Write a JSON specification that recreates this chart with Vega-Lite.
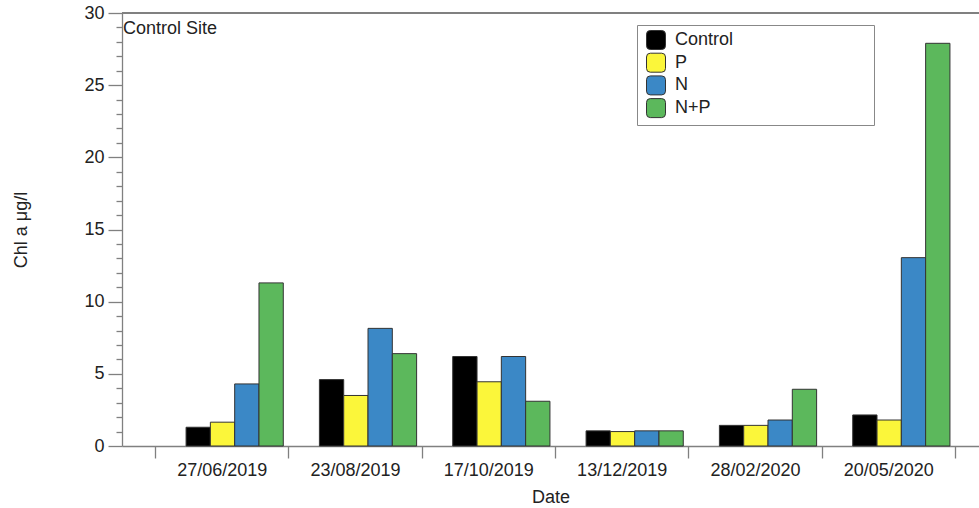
{
  "$schema": "https://vega.github.io/schema/vega-lite/v6.json",
  "autosize": {"type": "none"},
  "padding": {"left": 122, "top": 13, "right": 0, "bottom": 62},
  "width": 857,
  "height": 433,
  "background": "white",
  "config": {
    "view": {"stroke": null},
    "font": "Liberation Sans",
    "axis": {
      "domainColor": "#808080",
      "domainWidth": 1.3,
      "tickColor": "#808080",
      "tickWidth": 1.3,
      "labelFont": "Liberation Sans",
      "titleFont": "Liberation Sans",
      "labelFontSize": 18,
      "titleFontSize": 18,
      "labelColor": "#222",
      "titleColor": "#222",
      "titleFontWeight": "normal",
      "grid": false
    }
  },
  "title": {
    "text": "Control Site",
    "anchor": "start",
    "frame": "group",
    "orient": "top",
    "offset": 0,
    "baseline": "alphabetic",
    "dx": 1,
    "dy": 48,
    "fontSize": 18,
    "fontWeight": "normal",
    "font": "Liberation Sans",
    "color": "#222"
  },
  "data": {
    "values": [
      {"date": "27/06/2019", "treatment": "Control", "chl": 1.3},
      {"date": "27/06/2019", "treatment": "P", "chl": 1.65},
      {"date": "27/06/2019", "treatment": "N", "chl": 4.3},
      {"date": "27/06/2019", "treatment": "N+P", "chl": 11.3},
      {"date": "23/08/2019", "treatment": "Control", "chl": 4.6},
      {"date": "23/08/2019", "treatment": "P", "chl": 3.5},
      {"date": "23/08/2019", "treatment": "N", "chl": 8.15},
      {"date": "23/08/2019", "treatment": "N+P", "chl": 6.4},
      {"date": "17/10/2019", "treatment": "Control", "chl": 6.2},
      {"date": "17/10/2019", "treatment": "P", "chl": 4.45},
      {"date": "17/10/2019", "treatment": "N", "chl": 6.2},
      {"date": "17/10/2019", "treatment": "N+P", "chl": 3.1},
      {"date": "13/12/2019", "treatment": "Control", "chl": 1.05},
      {"date": "13/12/2019", "treatment": "P", "chl": 1.0},
      {"date": "13/12/2019", "treatment": "N", "chl": 1.05},
      {"date": "13/12/2019", "treatment": "N+P", "chl": 1.05},
      {"date": "28/02/2020", "treatment": "Control", "chl": 1.43},
      {"date": "28/02/2020", "treatment": "P", "chl": 1.43},
      {"date": "28/02/2020", "treatment": "N", "chl": 1.8},
      {"date": "28/02/2020", "treatment": "N+P", "chl": 3.93},
      {"date": "20/05/2020", "treatment": "Control", "chl": 2.15},
      {"date": "20/05/2020", "treatment": "P", "chl": 1.8},
      {"date": "20/05/2020", "treatment": "N", "chl": 13.05},
      {"date": "20/05/2020", "treatment": "N+P", "chl": 27.9}
    ]
  },
  "layer": [
    {
      "mark": {"type": "bar", "stroke": "#333", "strokeWidth": 1},
      "encoding": {
        "x": {
          "field": "date",
          "type": "nominal",
          "sort": null,
          "scale": {"paddingInner": 0, "paddingOuter": 0.2138, "align": 0.579},
          "axis": {
            "title": "Date",
            "labelAngle": 0,
            "tickBand": "extent",
            "tickSize": 12,
            "labelPadding": 3,
            "titlePadding": 9
          }
        },
        "xOffset": {
          "field": "treatment",
          "type": "nominal",
          "sort": ["Control", "P", "N", "N+P"],
          "scale": {"paddingInner": 0, "paddingOuter": 0.743, "align": 0.86}
        },
        "y": {
          "field": "chl",
          "type": "quantitative",
          "scale": {"domain": [0, 30], "nice": false},
          "axis": {
            "title": "Chl a μg/l",
            "values": [0,1,2,3,4,5,6,7,8,9,10,11,12,13,14,15,16,17,18,19,20,21,22,23,24,25,26,27,28,29,30],
            "tickCount": 31,
            "labelOverlap": false,
            "labelExpr": "datum.value % 5 === 0 ? datum.label : ''",
            "tickSize": {"condition": {"test": "datum.value % 5 === 0", "value": 14}, "value": 6},
            "labelPadding": 4,
            "titlePadding": 53
          }
        },
        "color": {
          "field": "treatment",
          "type": "nominal",
          "scale": {
            "domain": ["Control", "P", "N", "N+P"],
            "range": ["#000000", "#fbf63a", "#3b88c6", "#5cb85c"]
          },
          "legend": {
            "title": "\u00a0",
            "titleOrient": "right",
            "titlePadding": 136,
            "orient": "none",
            "legendX": 515,
            "legendY": 12,
            "strokeColor": "#888",
            "fillColor": "white",
            "padding": 5,
            "symbolOffset": 4,
            "symbolType": "M-0.6,-1H0.6Q1,-1,1,-0.6V0.6Q1,1,0.6,1H-0.6Q-1,1,-1,0.6V-0.6Q-1,-1,-0.6,-1Z",
            "symbolSize": 361,
            "symbolStrokeColor": "#333",
            "symbolStrokeWidth": 1,
            "symbolOpacity": 1,
            "labelFontSize": 18,
            "labelFont": "Liberation Sans",
            "labelColor": "#222",
            "labelOffset": 9,
            "rowPadding": -1.3
          }
        }
      }
    },
    {
      "mark": {"type": "rule", "color": "#808080", "strokeWidth": 1.3},
      "encoding": {"y": {"datum": 30}}
    }
  ]
}
